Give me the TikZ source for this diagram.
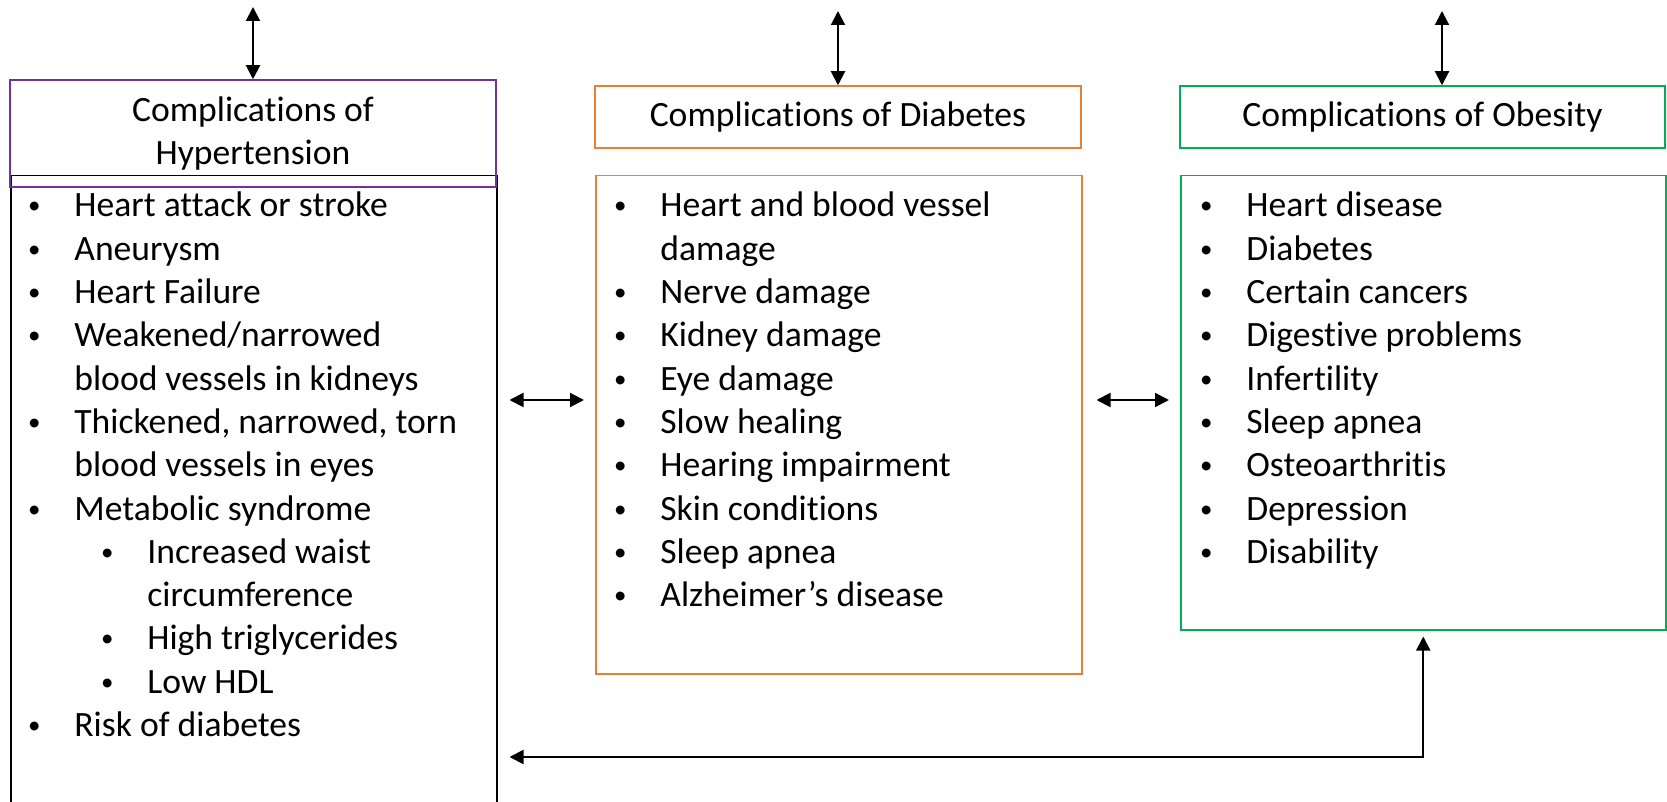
\documentclass[tikz,border=0pt]{standalone}
\usepackage{graphicx}
\usepackage{fontspec}
\setmainfont{Carlito}[RawFeature={-liga;-clig;-calt;-dlig}]
\usetikzlibrary{arrows.meta,positioning,calc}

\definecolor{hyppurple}{HTML}{7030A0}
\definecolor{diaborange}{HTML}{ED7D31}
\definecolor{obesgreen}{HTML}{00B050}

\newcommand{\bul}{\makebox[24.5pt][l]{\hspace{1.3pt}\raisebox{1.5pt}{\scalebox{0.7}{\textbullet}}}}
\newcommand{\subind}{\hspace*{36.5pt}}
\newcommand{\contind}{\hspace*{24.5pt}}

\begin{document}
\begin{tikzpicture}
  [x=0.5pt,y=-0.5pt,
   every node/.style={font=\fontsize{17.8pt}{21.65pt}\selectfont},
   headbox/.style={rectangle,draw,line width=0.75pt,inner sep=0pt,align=center},
   listbox/.style={rectangle,draw,line width=0.75pt,inner sep=0pt,anchor=north west},
   listtext/.style={anchor=base west,inner sep=0pt},
   dblarrow/.style={{Triangle[length=7pt,width=7pt]}-{Triangle[length=7pt,width=7pt]},line width=1pt}]
  \useasboundingbox (0,0) rectangle (1667,802);

  % hypertension
  \node[listbox,minimum width=243pt,minimum height=317.5pt] (hyplist) at (10,175) {};
  \node[headbox,draw=hyppurple,minimum width=243pt,minimum height=53.5pt] (hyphead) at (253,133.5) {Complications of\\Hypertension};
  \node[listtext] (hyptext) at (25,217) {\parbox[t]{240pt}{%
    \bul Heart attack or stroke\\
    \bul Aneurysm\\
    \bul Heart Failure\\
    \bul Weakened/narrowed\\
    \contind blood vessels in kidneys\\
    \bul Thickened, narrowed, torn\\
    \contind blood vessels in eyes\\
    \bul Metabolic syndrome\\
    \subind\bul Increased waist\\
    \subind\contind circumference\\
    \subind\bul High triglycerides\\
    \subind\bul Low HDL\\
    \bul Risk of diabetes}};

  % diabetes
  \node[headbox,draw=diaborange,minimum width=243pt,minimum height=31pt] (diabhead) at (838,117) {Complications of Diabetes};
  \node[listbox,draw=diaborange,minimum width=243pt,minimum height=249pt] (diablist) at (595,175) {};
  \node[listtext] (diabtext) at (611,217) {\parbox[t]{240pt}{%
    \bul Heart and blood vessel\\
    \contind damage\\
    \bul Nerve damage\\
    \bul Kidney damage\\
    \bul Eye damage\\
    \bul Slow healing\\
    \bul Hearing impairment\\
    \bul Skin conditions\\
    \bul Sleep apnea\\
    \bul Alzheimer’s disease}};

  % obesity
  \node[headbox,draw=obesgreen,minimum width=242.5pt,minimum height=31pt] (obeshead) at (1422.5,117) {Complications of Obesity};
  \node[listbox,draw=obesgreen,minimum width=242.5pt,minimum height=227pt] (obeslist) at (1180,175) {};
  \node[listtext] (obestext) at (1197,217) {\parbox[t]{240pt}{%
    \bul Heart disease\\
    \bul Diabetes\\
    \bul Certain cancers\\
    \bul Digestive problems\\
    \bul Infertility\\
    \bul Sleep apnea\\
    \bul Osteoarthritis\\
    \bul Depression\\
    \bul Disability}};

  % connectors
  \coordinate (hyptop) at (253,7);
  \coordinate (diabtop) at (838,11);
  \coordinate (obestop) at (1442,11);
  \coordinate (midrow) at (0,400);
  \coordinate (lowrow) at (0,757);
  \draw[dblarrow] (hyptop) -- (hyphead.north);
  \draw[dblarrow] (diabtop) -- (diabhead.north);
  \draw[dblarrow] (obestop) -- (obestop |- obeshead.north);
  \draw[dblarrow,shorten <=6pt,shorten >=5.5pt] (hyplist.east |- midrow) -- (diablist.west |- midrow);
  \draw[dblarrow,shorten <=7pt,shorten >=5.5pt] (diablist.east |- midrow) -- (obeslist.west |- midrow);
  \draw[dblarrow,shorten <=3pt,shorten >=6pt] (obeslist.south) -- (obeslist.south |- lowrow) -- (hyplist.east |- lowrow);
\end{tikzpicture}
\end{document}
